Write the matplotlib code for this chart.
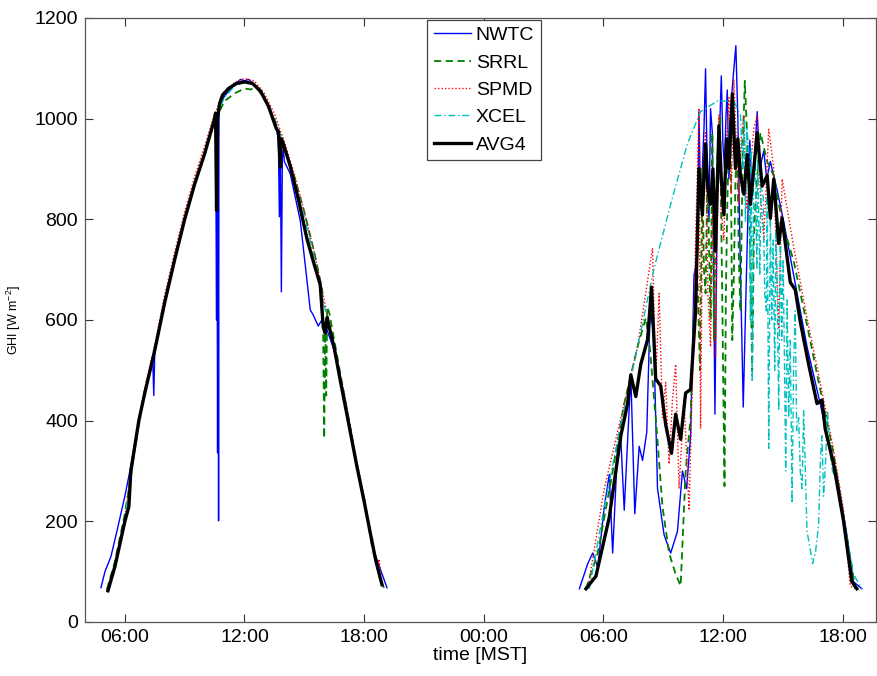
import numpy as np
import matplotlib
matplotlib.use("Agg")
import matplotlib.pyplot as plt

plt.rcParams['font.family'] = ['Liberation Sans', 'DejaVu Sans']
plt.rcParams['mathtext.fontset'] = 'custom'
plt.rcParams['mathtext.rm'] = 'Liberation Sans'
plt.rcParams['mathtext.it'] = 'Liberation Sans'

# time in hours since midnight of day 1 (MST)
# ---------------- NWTC ----------------
nwtc_t1 = [4.8, 5.0, 5.3, 5.6, 6.0, 6.3, 6.7, 7.0, 7.4, 7.45, 7.5, 8.0, 8.5, 9.0, 9.5, 10.0,
           10.4, 10.55, 10.6, 10.62, 10.65, 10.68, 10.7, 10.72, 10.75, 10.8, 11.0, 11.5, 11.8,
           12.0, 12.2, 12.5, 13.0, 13.5, 13.7, 13.75, 13.8, 13.85, 13.9, 13.95, 14.0, 14.3,
           14.8, 15.3, 15.45, 15.7, 15.88, 16.05, 16.5, 17.0, 17.5, 18.0, 18.5, 19.15]
nwtc_v1 = [68, 100, 130, 180, 250, 310, 400, 460, 520, 450, 535, 640, 720, 800, 870, 930,
           985, 1008, 600, 990, 336, 1000, 201, 1005, 1020, 1030, 1045, 1068, 1078,
           1075, 1078, 1068, 1040, 995, 960, 805, 950, 656, 920, 940, 915, 890,
           797, 620, 610, 588, 600, 590, 540, 450, 340, 240, 140, 68]
nwtc_t2 = [28.8, 29.22, 29.47, 29.72, 30.05, 30.3, 30.47, 30.72, 30.88, 31.05, 31.38, 31.58,
           31.8, 31.97, 32.18, 32.35, 32.52, 32.72, 33.05, 33.38, 33.72, 33.97, 34.18, 34.38,
           34.55, 34.72, 34.8, 34.88, 34.97, 35.05, 35.13, 35.22, 35.3, 35.38, 35.47, 35.6,
           35.72, 35.82, 35.92, 36.0, 36.08, 36.15, 36.22, 36.3, 36.38, 36.45, 36.52, 36.65,
           36.75, 36.85, 37.02, 37.1, 37.18, 37.35, 37.45, 37.55, 37.72, 37.85, 38.05, 38.2,
           38.38, 38.72, 39.05, 39.55, 40.22, 40.88, 41.22, 41.72, 42.22, 42.55, 42.97]
nwtc_v2 = [66, 116, 137, 109, 229, 293, 137, 349, 363, 222, 491, 215,
           349, 321, 377, 618, 576, 265, 173, 137, 180, 300, 265, 370,
           689, 724, 1014, 820, 901, 980, 1099, 880, 795, 1020, 972, 413,
           866, 960, 1085, 950, 901, 1000, 1057, 880, 936, 1050, 1085, 1145,
           1000, 759, 427, 560, 689, 957, 850, 901, 1014, 900, 936, 880,
           915, 858, 795, 689, 547, 434, 370, 293, 173, 80, 66]

# ---------------- SRRL ----------------
srrl_t1 = [5.1, 5.5, 6.0, 6.3, 6.7, 7.0, 7.5, 8.0, 8.5, 9.0, 9.5, 10.0, 10.5, 11.0, 11.5,
           12.0, 12.3, 12.6, 13.0, 13.5, 14.0, 14.5, 15.0, 15.5, 15.9, 15.95, 16.0, 16.05,
           16.1, 16.15, 16.25, 16.8, 17.2, 17.6, 18.0, 18.4, 18.8, 19.0]
srrl_v1 = [65, 120, 215, 290, 400, 460, 540, 640, 720, 800, 870, 930, 995, 1035, 1050,
           1060, 1058, 1062, 1040, 1000, 945, 885, 815, 735, 660, 560, 365, 600,
           450, 625, 615, 495, 410, 320, 245, 150, 85, 68]
srrl_t2 = [29.13, 29.72, 30.38, 31.05, 31.72, 32.13, 32.3, 32.63, 32.97, 33.3, 33.63, 33.88,
           34.13, 34.38, 34.55, 34.72, 34.85, 34.97, 35.05, 35.13, 35.22, 35.3, 35.38, 35.47,
           35.55, 35.63, 35.72, 35.85, 35.95, 36.08, 36.15, 36.22, 36.3, 36.38, 36.47, 36.55,
           36.63, 36.72, 36.8, 36.88, 37.0, 37.1, 37.2, 37.3, 37.38, 37.47, 37.55, 37.63,
           37.88, 38.22, 38.55, 38.97, 39.55, 40.22, 40.88, 41.55, 42.05, 42.47, 42.63]
srrl_v2 = [66, 137, 279, 434, 547, 604, 561, 406, 229, 137, 95, 72,
           300, 406, 618, 689, 500, 901, 700, 653, 880, 759, 600, 972,
           560, 795, 920, 1007, 700, 270, 650, 830, 950, 1007, 560, 689,
           880, 936, 720, 618, 950, 1075, 980, 901, 700, 498, 760, 830,
           972, 915, 887, 795, 717, 590, 462, 335, 208, 109, 66]

# ---------------- SPMD ----------------
spmd_t1 = [5.1, 5.5, 6.0, 6.5, 7.0, 7.5, 8.0, 8.5, 9.0, 9.5, 10.0, 10.5, 11.0, 11.5, 12.0,
           12.5, 13.0, 13.5, 14.0, 14.5, 15.0, 15.5, 16.0, 16.5, 17.0, 17.5, 18.0, 18.4,
           18.7, 18.75, 18.85]
spmd_v1 = [64, 115, 210, 350, 465, 550, 650, 735, 815, 885, 945, 1010, 1050, 1072, 1080,
           1075, 1050, 1010, 955, 890, 815, 735, 640, 545, 455, 345, 250, 160,
           100, 125, 90]
spmd_t2 = [29.22, 30.05, 30.88, 31.72, 32.47, 32.63, 32.8, 32.97, 33.13, 33.3, 33.47, 33.63,
           33.8, 34.05, 34.3, 34.47, 34.63, 34.8, 34.88, 35.0, 35.13, 35.25, 35.38, 35.5,
           35.63, 35.8, 35.92, 36.05, 36.18, 36.3, 36.42, 36.55, 36.68, 36.8, 36.92, 37.05,
           37.2, 37.38, 37.55, 37.72, 37.88, 38.05, 38.3, 38.55, 38.8, 38.97, 39.55,
           40.22, 40.88, 41.55, 42.05, 42.38, 42.55]
spmd_v2 = [66, 265, 406, 547, 743, 476, 653, 406, 476, 314, 441, 512,
           265, 441, 222, 476, 759, 1021, 384, 900, 972, 650, 547, 900,
           526, 1007, 820, 759, 960, 1042, 850, 1078, 940, 830, 960, 1007,
           820, 901, 980, 1007, 850, 759, 979, 901, 582, 880, 745,
           604, 476, 342, 222, 73, 66]

# ---------------- XCEL ----------------
xcel_t1 = [5.1, 5.5, 6.0, 6.5, 7.0, 7.5, 8.0, 8.5, 9.0, 9.5, 10.0, 10.5, 11.0, 11.5, 12.0,
           12.5, 13.0, 13.5, 14.0, 14.5, 15.0, 15.5, 16.0, 16.5, 17.0, 17.5, 18.0, 18.5, 18.9]
xcel_v1 = [62, 112, 205, 340, 458, 545, 640, 725, 805, 875, 935, 1000, 1042, 1065, 1072,
           1068, 1045, 1000, 945, 880, 805, 725, 630, 540, 450, 340, 245, 140, 70]
xcel_t2 = [29.3, 30.05, 30.88, 31.72, 32.55, 33.38, 34.22, 34.88, 35.72, 36.55, 36.88,
           37.0, 37.08, 37.13, 37.2, 37.3, 37.38, 37.42, 37.47, 37.55, 37.63, 37.7, 37.75,
           37.85, 37.92, 38.02, 38.1, 38.18, 38.22, 38.3, 38.38, 38.45, 38.52, 38.6, 38.66,
           38.72, 38.8, 38.88, 38.95, 39.02, 39.08, 39.15, 39.22, 39.3, 39.38, 39.47, 39.55,
           39.63, 39.7, 39.8, 39.88, 39.97, 40.05, 40.22, 40.4, 40.5, 40.65, 40.8, 40.9,
           40.97, 41.05, 41.13, 41.25, 41.38, 41.5, 41.72, 42.05, 42.55, 42.97]
xcel_v2 = [66, 229, 392, 547, 703, 830, 950, 1014, 1035, 1035, 1007,
           900, 1000, 795, 980, 936, 600, 940, 477, 920, 901, 700, 920,
           689, 880, 844, 650, 618, 850, 345, 820, 600, 759, 500, 780,
           653, 420, 795, 560, 720, 547, 300, 640, 406, 560, 236, 520,
           618, 380, 406, 300, 265, 420, 180, 140, 116, 140, 194, 330,
           370, 250, 300, 420, 335, 300, 279, 208, 95, 66]

# ---------------- AVG4 ----------------
avg4_t1 = [5.15, 5.5, 6.0, 6.2, 6.3, 6.7, 7.0, 7.5, 8.0, 8.5, 9.0, 9.5, 10.0, 10.5, 10.55,
           10.6, 10.65, 10.75, 10.9, 11.2, 11.6, 12.0, 12.4, 12.8, 13.2, 13.6, 13.7, 13.8,
           13.85, 13.95, 14.3, 14.7, 15.13, 15.5, 15.8, 15.95, 16.05, 16.15, 16.2, 16.5,
           16.8, 17.2, 17.64, 18.0, 18.31, 18.6, 18.9]
avg4_v1 = [62, 110, 200, 229, 300, 400, 455, 540, 635, 720, 800, 870, 930, 1000, 1011,
           818, 1000, 1030, 1047, 1060, 1070, 1073, 1070, 1055, 1025, 980, 975, 904,
           960, 950, 905, 840, 762, 710, 670, 586, 574, 605, 595, 545,
           481, 400, 309, 240, 177, 120, 74]
avg4_t2 = [29.13, 29.63, 30.3, 30.88, 31.22, 31.38, 31.63, 31.88, 32.22, 32.42, 32.63, 32.88,
           33.13, 33.42, 33.63, 33.88, 34.13, 34.38, 34.63, 34.8, 34.97, 35.05, 35.13, 35.25,
           35.38, 35.5, 35.63, 35.8, 35.92, 36.05, 36.18, 36.3, 36.47, 36.63, 36.75, 36.88,
           37.05, 37.22, 37.38, 37.55, 37.72, 37.97, 38.22, 38.38, 38.55, 38.8, 38.97, 39.38,
           39.63, 39.88, 40.3, 40.72, 40.97, 41.13, 41.55, 42.05, 42.47, 42.72]
avg4_v2 = [66, 91, 208, 370, 434, 491, 448, 512, 561, 665, 483, 469,
           392, 335, 413, 363, 455, 462, 618, 901, 809, 880, 950, 860,
           830, 900, 738, 986, 880, 809, 960, 901, 1049, 901, 960, 887,
           850, 929, 830, 900, 972, 866, 887, 802, 880, 752, 802, 675,
           660, 597, 512, 434, 441, 384, 314, 201, 80, 66]

labels = ['NWTC', 'SRRL', 'SPMD', 'XCEL', 'AVG4']
xtick_pos = [6, 12, 18, 24, 30, 36, 42]
xtick_labels = ['06:00', '12:00', '18:00', '00:00', '06:00', '12:00', '18:00']
ytick_pos = [0, 200, 400, 600, 800, 1000, 1200]

series = [
    (nwtc_t1, nwtc_v1, nwtc_t2, nwtc_v2, dict(color='#0000ff', ls='-', lw=1.0)),
    (srrl_t1, srrl_v1, srrl_t2, srrl_v2, dict(color='#008000', ls=(0, (4, 2.5)), lw=1.3)),
    (spmd_t1, spmd_v1, spmd_t2, spmd_v2, dict(color='#ff0000', ls=(0, (1, 1.5)), lw=1.0)),
    (xcel_t1, xcel_v1, xcel_t2, xcel_v2, dict(color='#00bfbf', ls=(0, (5, 2, 1, 2)), lw=1.0)),
    (avg4_t1, avg4_v1, avg4_t2, avg4_v2, dict(color='#000000', ls='-', lw=2.4)),
]

fig = plt.figure(figsize=(8.77, 6.76), dpi=100)
ax = fig.add_axes([85 / 877, 1 - 622 / 676, (876 - 85) / 877, (622 - 18) / 676])

for (t1, v1, t2, v2, st), lab in zip(series, labels):
    t = list(t1) + [np.nan] + list(t2)
    v = list(v1) + [np.nan] + list(v2)
    ax.plot(t, v, label=lab, **st)

ax.set_xlim(4.0, 43.68)
ax.set_ylim(0, 1200)
ax.set_xticks(xtick_pos)
ax.set_xticklabels(xtick_labels)
ax.set_yticks(ytick_pos)
ax.tick_params(direction='in', length=6, width=0.8, top=True, right=True,
               labelsize=14, colors='#333333', labelcolor='black', pad=5)
for s in ax.spines.values():
    s.set_color('#555555')
    s.set_linewidth(0.9)

ax.set_xlabel('time [MST]', fontsize=14, labelpad=1)
ax.set_ylabel('GHI [W m$^{-2}$]', fontsize=9, labelpad=8)

leg = ax.legend(loc='upper center', bbox_to_anchor=(0.5045, 0.997), fontsize=14,
                frameon=True, fancybox=False, edgecolor='#444444', framealpha=1,
                handlelength=1.9, handletextpad=0.25, labelspacing=0.5,
                borderpad=0.35, borderaxespad=0.0)
leg.get_frame().set_linewidth(0.9)

fig.savefig('out.png', dpi=100)
